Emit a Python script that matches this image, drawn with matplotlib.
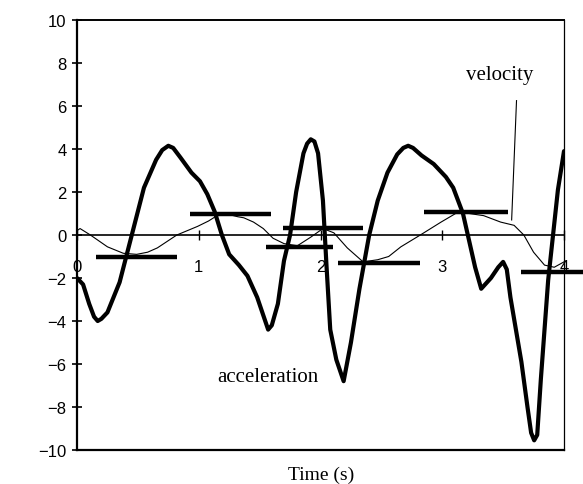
import matplotlib
matplotlib.use("Agg")
import matplotlib.pyplot as plt

# acceleration (thick curve)
acc_t = [0.0, 0.05, 0.10, 0.14, 0.17, 0.20, 0.25, 0.35, 0.45, 0.55, 0.65, 0.70, 0.75, 0.79,
         0.85, 0.94, 1.01, 1.07, 1.13, 1.19, 1.25, 1.33, 1.40, 1.48, 1.54, 1.57, 1.60, 1.65,
         1.70, 1.75, 1.80, 1.86, 1.89, 1.92, 1.95, 1.98, 2.02, 2.05, 2.08, 2.13, 2.19, 2.25,
         2.32, 2.40, 2.47, 2.55, 2.63, 2.68, 2.72, 2.76, 2.83, 2.93, 3.03, 3.09, 3.17, 3.21,
         3.27, 3.32, 3.40, 3.46, 3.50, 3.53, 3.56, 3.65, 3.70, 3.73, 3.755, 3.78, 3.81, 3.87,
         3.91, 3.95, 4.0]
acc_v = [-2.0, -2.3, -3.2, -3.8, -4.0, -3.9, -3.6, -2.2, 0.0, 2.2, 3.5, 3.95, 4.15, 4.05,
         3.6, 2.9, 2.5, 1.9, 1.1, 0.0, -0.9, -1.4, -1.9, -2.9, -3.9, -4.4, -4.2, -3.2,
         -1.2, 0.0, 2.0, 3.8, 4.25, 4.45, 4.35, 3.8, 1.6, -1.5, -4.4, -5.8, -6.8, -5.0,
         -2.5, 0.0, 1.6, 2.9, 3.75, 4.05, 4.15, 4.05, 3.7, 3.3, 2.7, 2.2, 1.0, 0.0,
         -1.5, -2.5, -2.0, -1.5, -1.25, -1.6, -2.9, -5.9, -8.0, -9.2, -9.55, -9.3, -6.7, -2.1,
         0.0, 2.1, 3.9]

# velocity (thin curve)
vel_t = [0.0, 0.025, 0.11, 0.25, 0.38, 0.49, 0.58, 0.66, 0.82, 0.99, 1.08, 1.15, 1.25,
         1.32, 1.37, 1.45, 1.53, 1.61, 1.70, 1.81, 1.92, 2.02, 2.11, 2.22, 2.35, 2.47,
         2.56, 2.66, 2.82, 2.99, 3.11, 3.22, 3.34, 3.48, 3.59, 3.67, 3.75, 3.84, 3.92, 4.0]
vel_v = [0.2, 0.3, 0.0, -0.55, -0.85, -0.9, -0.8, -0.6, 0.0, 0.4, 0.65, 0.9, 0.95,
         0.85, 0.8, 0.6, 0.3, -0.15, -0.4, -0.5, -0.1, 0.3, 0.1, -0.6, -1.25, -1.15,
         -1.0, -0.55, 0.0, 0.6, 1.0, 1.0, 0.9, 0.6, 0.45, 0.0, -0.8, -1.4, -1.5, -1.25]

# average-velocity bars
bar_start = [0.16, 0.93, 1.55, 1.69, 2.14, 2.85, 3.65]
bar_end = [0.82, 1.59, 2.10, 2.35, 2.82, 3.54, 4.16]
bar_value = [-1.0, 1.0, -0.55, 0.33, -1.3, 1.05, -1.7]

x_ticks = [0, 1, 2, 3, 4]
x_ticklabels = ["0", "1", "2", "3", "4"]
y_ticks = [-10, -8, -6, -4, -2, 0, 2, 4, 6, 8, 10]
y_ticklabels = ["\u221210", "\u22128", "\u22126", "\u22124", "\u22122", "0", "2", "4", "6", "8", "10"]

serif = ["Liberation Serif", "DejaVu Serif"]
sans = ["Liberation Sans", "DejaVu Sans"]

fig = plt.figure(figsize=(5.83, 4.85), dpi=100)
ax = fig.add_axes([77 / 583, 1 - 451 / 485, (564 - 77) / 583, (451 - 21) / 485])
ax.set_xlim(0, 4)
ax.set_ylim(-10, 10)

ax.plot(vel_t, vel_v, color="black", lw=0.8, zorder=3)
ax.plot(acc_t, acc_v, color="black", lw=3.0, solid_joinstyle="round",
        solid_capstyle="round", zorder=4)
ax.hlines(bar_value, bar_start, bar_end, colors="black", lw=3.2, zorder=5, clip_on=False)

# spines / frame
ax.spines["bottom"].set_position(("data", 0))
ax.spines["bottom"].set_linewidth(1.2)
ax.spines["left"].set_linewidth(1.6)
ax.spines["top"].set_linewidth(1.4)
ax.spines["right"].set_linewidth(0.9)
ax.axhline(-10, color="black", lw=1.6, zorder=2, clip_on=False)

ax.set_xticks(x_ticks)
ax.set_xticklabels(x_ticklabels, family=sans, fontsize=12)
ax.set_yticks(y_ticks)
ax.set_yticklabels(y_ticklabels, family=sans, fontsize=12)
ax.tick_params(axis="x", direction="inout", length=7, width=1, pad=14)
ax.tick_params(axis="y", direction="inout", length=7, width=1.2, pad=4)

ax.text(3.47, 7.45, "velocity", family=serif, fontsize=15, ha="center", va="center")
ax.plot([3.61, 3.57], [6.25, 0.7], color="black", lw=0.8)
ax.text(1.57, -6.57, "acceleration", family=serif, fontsize=15, ha="center", va="center")
fig.text(321 / 583, 1 - 475 / 485, "Time (s)", family=serif, fontsize=14, ha="center", va="center")

fig.savefig("out.png", dpi=100)
